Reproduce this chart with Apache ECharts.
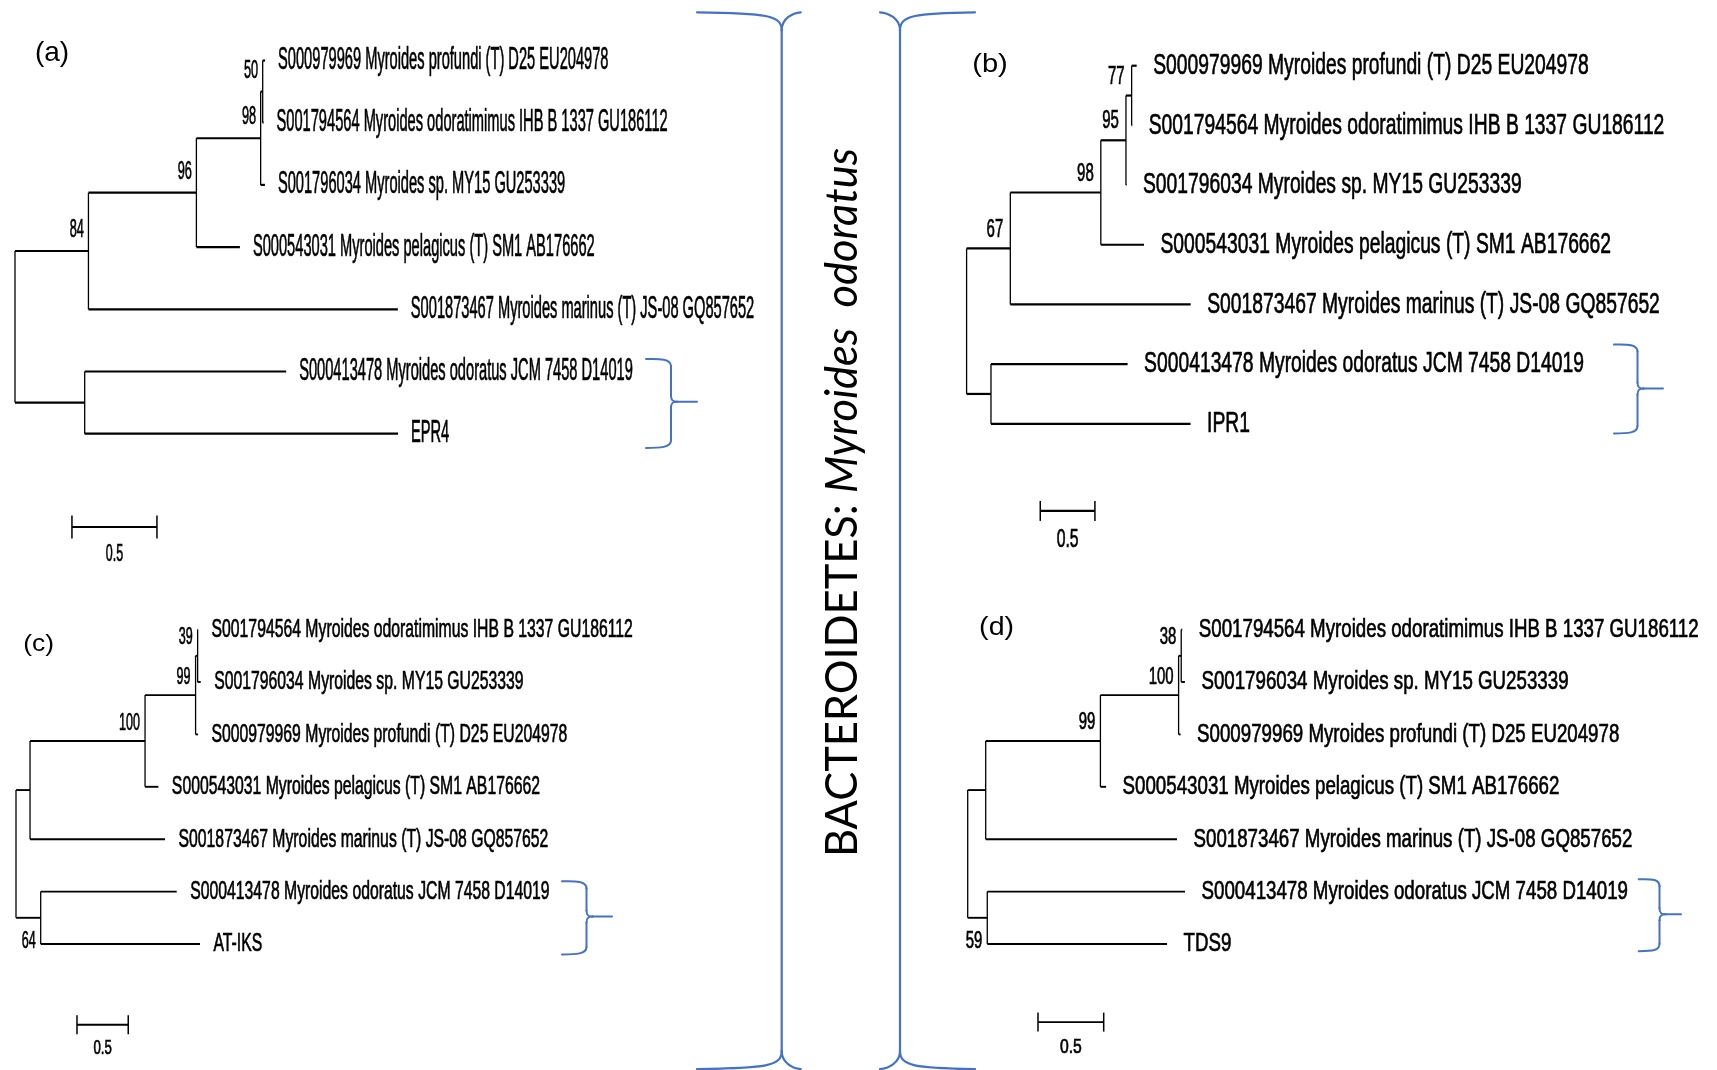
<!DOCTYPE html>
<html><head><meta charset="utf-8">
<script src="https://cdn.jsdelivr.net/npm/echarts@6/dist/echarts.min.js"></script>
<style>html,body{margin:0;padding:0;background:#fff}#c{width:1717px;height:1070px}</style>
</head><body><div id="c"></div>
<script>
// ================= DATA =================
// Panel (a)
const leavesA = ['S000979969 Myroides profundi (T) D25 EU204978','S001794564 Myroides odoratimimus IHB B 1337 GU186112','S001796034 Myroides sp. MY15 GU253339','S000543031 Myroides pelagicus (T) SM1 AB176662','S001873467 Myroides marinus (T) JS-08 GQ857652','S000413478 Myroides odoratus JCM 7458 D14019','EPR4'];
const leafLenA = [0.014, 0.005, 0.025, 0.256, 1.82, 1.185, 1.843];
const nodeLenA = [0.012, 0.378, 0.635, 0.432, 0.41];   // N1..N5 branch lengths
const bootA = [50, 98, 96, 84, null];
// Panel (b)
const leavesB = ['S000979969 Myroides profundi (T) D25 EU204978','S001794564 Myroides odoratimimus IHB B 1337 GU186112','S001796034 Myroides sp. MY15 GU253339','S000543031 Myroides pelagicus (T) SM1 AB176662','S001873467 Myroides marinus (T) JS-08 GQ857652','S000413478 Myroides odoratus JCM 7458 D14019','IPR1'];
const leafLenB = [0.046, 0.005, 0.004, 0.395, 1.65, 1.25, 1.826];
const nodeLenB = [0.052, 0.23, 0.828, 0.40, 0.223];
const bootB = [77, 95, 98, 67, null];
// Panel (c)
const leavesC = ['S001794564 Myroides odoratimimus IHB B 1337 GU186112','S001796034 Myroides sp. MY15 GU253339','S000979969 Myroides profundi (T) D25 EU204978','S000543031 Myroides pelagicus (T) SM1 AB176662','S001873467 Myroides marinus (T) JS-08 GQ857652','S000413478 Myroides odoratus JCM 7458 D14019','AT-IKS'];
const leafLenC = [0.004, 0.03, 0.023, 0.13, 1.317, 1.327, 1.554];
const nodeLenC = [0.02, 0.493, 1.122, 0.137, 0.241];
const bootC = [39, 99, 100, null, 64];
// Panel (d)
const leavesD = ['S001794564 Myroides odoratimimus IHB B 1337 GU186112','S001796034 Myroides sp. MY15 GU253339','S000979969 Myroides profundi (T) D25 EU204978','S000543031 Myroides pelagicus (T) SM1 AB176662','S001873467 Myroides marinus (T) JS-08 GQ857652','S000413478 Myroides odoratus JCM 7458 D14019','TDS9'];
const leafLenD = [0.008, 0.028, 0.015, 0.043, 1.456, 1.505, 1.368];
const nodeLenD = [0.02, 0.595, 0.873, 0.137, 0.149];
const bootD = [38, 100, 99, null, 59];
// Shared
const scaleBarLen = 0.5;
const scaleBarLabel = '0.5';
const panelTags = ['(a)', '(b)', '(c)', '(d)'];
const titleMain = 'BACTEROIDETES: ';
const titleItalic = 'Myroides  odoratus';

// Tree topology shared by all panels (children: node ids or leaf indices)
const topology = {root:['N4','N5'], N4:['N3',4], N3:['N2',3], N2:['N1',2], N1:[0,1], N5:[5,6]};
const nodeOrder = ['N1','N2','N3','N4','N5'];

// ================= LAYOUT (styles/positions) =================
const layouts = [
  {rootX:15, y0:60.5, dy:62.2, ppu:170, gap:13, tipFont:30.5, tipSX:0.48, bootFont:26, bootSX:0.49, bootDx:-4.5, bootDy:-21, belowDy:24,
   hLW:2.2, vLW:1.3, sbX:0.335, sbY:7.5, tick:11.5, sbLabDy:27, sbFont:24, sbSX:0.52, tagX:52, tagY:53, tagFont:28, tagSX:1.0},
  {rootX:966.6, y0:65.7, dy:59.68, ppu:109.3, gap:16.5, tipFont:30.3, tipSX:0.637, bootFont:25.6, bootSX:0.587, bootDx:-7, bootDy:-19, belowDy:24,
   hLW:2.2, vLW:1.3, sbX:0.674, sbY:7.46, tick:10, sbLabDy:29, sbFont:25, sbSX:0.63, tagX:990, tagY:65, tagFont:26, tagSX:1.12},
  {rootX:16, y0:629.6, dy:52.4, ppu:102.5, gap:13.5, tipFont:26.5, tipSX:0.595, bootFont:24.2, bootSX:0.52, bootDx:-5, bootDy:-18, belowDy:24,
   hLW:1.9, vLW:1.3, sbX:0.595, sbY:7.54, tick:9.5, sbLabDy:24, sbFont:21, sbSX:0.63, tagX:38.6, tagY:644.6, tagFont:24, tagSX:1.1},
  {rootX:967.7, y0:629.6, dy:52.4, ppu:131.4, gap:16.5, tipFont:26.5, tipSX:0.706, bootFont:23.3, bootSX:0.64, bootDx:-5, bootDy:-18, belowDy:24,
   hLW:1.9, vLW:1.3, sbX:0.535, sbY:7.49, tick:9.5, sbLabDy:25, sbFont:21, sbSX:0.75, tagX:996.6, tagY:627.5, tagFont:26, tagSX:1.1}
];
const panelData = [
  {leaves:leavesA, leafLen:leafLenA, nodeLen:nodeLenA, boot:bootA},
  {leaves:leavesB, leafLen:leafLenB, nodeLen:nodeLenB, boot:bootB},
  {leaves:leavesC, leafLen:leafLenC, nodeLen:nodeLenC, boot:bootC},
  {leaves:leavesD, leafLen:leafLenD, nodeLen:nodeLenD, boot:bootD}
];
const XMAX = 2.5;
const FONT = 'Liberation Sans';
const BLUE = '#4472C4';
const TXT_STROKE = 0.7;

function layoutTree(leafLen, nodeLen) {
  const pos = {};
  function place(id, parentX) {
    if (typeof id === 'number') { pos['L' + id] = {x: parentX + leafLen[id], y: id}; return id; }
    const xi = id === 'root' ? 0 : parentX + nodeLen[nodeOrder.indexOf(id)];
    const ys = topology[id].map(c => { place(c, xi); return typeof c === 'number' ? pos['L' + c].y : pos[c].y; });
    pos[id] = {x: xi, y: (ys[0] + ys[ys.length - 1]) / 2, childYs: ys};
  }
  place('root', 0);
  return pos;
}
function getPos(pos, c) { return typeof c === 'number' ? pos['L' + c] : pos[c]; }

const grids = [], xAxes = [], yAxes = [], series = [];
panelData.forEach((P, pi) => {
  const L = layouts[pi];
  grids.push({left: L.rootX, top: L.y0, width: L.ppu * XMAX, height: L.dy * 6});
  xAxes.push({type: 'value', gridIndex: pi, min: 0, max: XMAX, show: false});
  yAxes.push({type: 'value', gridIndex: pi, min: 0, max: 6, inverse: true, show: false});
  const pos = layoutTree(P.leafLen, P.nodeLen);
  const segs = [];
  for (const id in topology) {
    const N = pos[id];
    topology[id].forEach(c => { const C = getPos(pos, c); segs.push([N.x, C.y, C.x, C.y, 0]); });
    segs.push([N.x, Math.min(...N.childYs), N.x, Math.max(...N.childYs), 1]);
  }
  segs.push([L.sbX, L.sbY, L.sbX + scaleBarLen, L.sbY, 2]);
  series.push({
    type: 'custom', xAxisIndex: pi, yAxisIndex: pi, silent: true, data: segs,
    renderItem: (params, api) => {
      const p1 = api.coord([api.value(0), api.value(1)]);
      const p2 = api.coord([api.value(2), api.value(3)]);
      const kind = api.value(4);
      if (kind === 2) {
        const t = L.tick;
        const ts = {fill: '#000', fontFamily: FONT, fontSize: L.sbFont, text: scaleBarLabel,
          stroke: '#000', lineWidth: TXT_STROKE,
          align: 'center', verticalAlign: 'middle', textAlign: 'center', textVerticalAlign: 'middle'};
        return {type: 'group', children: [
          {type: 'line', shape: {x1: p1[0], y1: p1[1], x2: p2[0], y2: p2[1]}, style: {stroke: '#000', lineWidth: L.hLW}},
          {type: 'line', shape: {x1: p1[0], y1: p1[1] - t, x2: p1[0], y2: p1[1] + t}, style: {stroke: '#000', lineWidth: 1.5}},
          {type: 'line', shape: {x1: p2[0], y1: p2[1] - t, x2: p2[0], y2: p2[1] + t}, style: {stroke: '#000', lineWidth: 1.5}},
          {type: 'text', x: (p1[0] + p2[0]) / 2, y: p1[1] + L.sbLabDy, scaleX: L.sbSX, style: ts}
        ]};
      }
      return {type: 'line', shape: {x1: p1[0], y1: p1[1], x2: p2[0], y2: p2[1]},
        style: {stroke: '#000', lineWidth: kind === 0 ? L.hLW : L.vLW}};
    }
  });
  // texts
  const tdata = [], tmeta = [];
  P.leaves.forEach((name, i) => { const q = pos['L' + i]; tdata.push([q.x, q.y]); tmeta.push({t: name, k: 'tip'}); });
  nodeOrder.forEach((id, j) => {
    if (P.boot[j] == null) return;
    const q = pos[id];
    tdata.push([q.x, q.y]);
    tmeta.push({t: String(P.boot[j]), k: id === 'N5' ? 'below' : 'above'});
  });
  series.push({
    type: 'custom', xAxisIndex: pi, yAxisIndex: pi, silent: true, data: tdata,
    renderItem: (params, api) => {
      const p = api.coord([api.value(0), api.value(1)]);
      const m = tmeta[params.dataIndex];
      if (m.k === 'tip') {
        return {type: 'text', x: p[0] + L.gap, y: p[1], scaleX: L.tipSX,
          style: {text: m.t, fill: '#000', stroke: '#000', lineWidth: TXT_STROKE, fontFamily: FONT, fontSize: L.tipFont,
            align: 'left', verticalAlign: 'middle', textAlign: 'left', textVerticalAlign: 'middle'}};
      }
      const dy = m.k === 'above' ? L.bootDy : L.belowDy;
      return {type: 'text', x: p[0] + L.bootDx, y: p[1] + dy, scaleX: L.bootSX,
        style: {text: m.t, fill: '#000', stroke: '#000', lineWidth: TXT_STROKE, fontFamily: FONT, fontSize: L.bootFont,
          align: 'right', verticalAlign: 'middle', textAlign: 'right', textVerticalAlign: 'middle'}};
    }
  });
});

// Title scale fitting
const ctx = document.createElement('canvas').getContext('2d');
ctx.font = '44px Lato'; const tw1 = ctx.measureText(titleMain).width;
ctx.font = 'italic 44px Lato'; const tw2 = ctx.measureText(titleItalic).width;
const titleSX = 709 / (tw1 + tw2);

const graphic = [];
// panel tags
layouts.forEach((L, i) => {
  graphic.push({type: 'text', x: L.tagX, y: L.tagY, scaleX: L.tagSX, silent: true,
    style: {text: panelTags[i], fill: '#000', fontFamily: FONT, fontSize: L.tagFont,
      align: 'center', verticalAlign: 'middle', textAlign: 'center', textVerticalAlign: 'middle'}});
});
// title
graphic.push({type: 'text', x: 843, y: 502.5, rotation: Math.PI / 2, scaleX: titleSX, silent: true,
  style: {text: '{a|' + titleMain + '}{b|' + titleItalic + '}', fill: '#000', fontFamily: 'Lato', fontSize: 44,
    align: 'center', verticalAlign: 'middle', textAlign: 'center', textVerticalAlign: 'middle',
    rich: {a: {fontFamily: 'Lato', fontSize: 44, fill: '#000'}, b: {fontFamily: 'Lato', fontSize: 44, fontStyle: 'italic', fill: '#000'}}}});

// brace helpers (decorations)
function addLine(x1, y1, x2, y2, lw) {
  graphic.push({type: 'line', silent: true, shape: {x1, y1, x2, y2}, style: {stroke: BLUE, lineWidth: lw, lineCap: 'round'}});
}
function addCurve(x1, y1, c1x, c1y, c2x, c2y, x2, y2, lw) {
  graphic.push({type: 'bezierCurve', silent: true,
    shape: {x1, y1, x2, y2, cpx1: c1x, cpy1: c1y, cpx2: c2x, cpy2: c2y},
    style: {stroke: BLUE, fill: null, lineWidth: lw, lineCap: 'round'}});
}
// big braces
(function () {
  const lw = 2.2, top = 12.3, bot = 1069;
  [[781.7, 697, 800.7], [900, 975, 880]].forEach(([xv, xLong, xShort]) => {
    const s = xLong < xv ? 1 : -1; // direction of long arm
    addCurve(xLong, top, xv - s * 15, top + 0.8, xv, top + 3, xv, top + 18, lw);
    addLine(xv, top + 18, xv, bot - 18, lw);
    addCurve(xv, bot - 18, xv, bot - 3, xv - s * 15, bot - 0.8, xLong, bot, lw);
    addCurve(xv, top + 18, xv, top + 6, xShort - (xShort - xv) * 0.4, top + 0.5, xShort, top, lw);
    addCurve(xv, bot - 18, xv, bot - 6, xShort - (xShort - xv) * 0.4, bot - 0.5, xShort, bot, lw);
  });
})();
// small braces beside the odoratus clades: [xl, yt, xv, ym, xt, yb]
const smallBraces = [
  [646, 359, 671, 401.7, 697, 447.5],
  [1614, 344.6, 1637.5, 388.6, 1663, 433],
  [562, 881.3, 586.5, 916.6, 612, 954],
  [1638.7, 879.3, 1659.5, 914.3, 1681, 950.7]
];
smallBraces.forEach(([xl, yt, xv, ym, xt, yb]) => {
  const lw = 2;
  addCurve(xl, yt, xl + 14, yt - 0.5, xv, yt, xv, yt + 7, lw);
  addLine(xv, yt + 7, xv, ym - 6, lw);
  addCurve(xv, ym - 6, xv, ym - 1, xv + 2, ym, xv + 6, ym, lw);
  addLine(xv + 6, ym, xt, ym, lw);
  addCurve(xv + 6, ym, xv + 2, ym, xv, ym + 1, xv, ym + 6, lw);
  addLine(xv, ym + 6, xv, yb - 7, lw);
  addCurve(xv, yb - 7, xv, yb, xl + 14, yb + 0.5, xl, yb + 0.5, lw);
});

const chart = echarts.init(document.getElementById('c'), null, {renderer: 'canvas'});
chart.setOption({
  backgroundColor: '#fff',
  animation: false,
  grid: grids, xAxis: xAxes, yAxis: yAxes, series: series, graphic: graphic
});
</script></body></html>
